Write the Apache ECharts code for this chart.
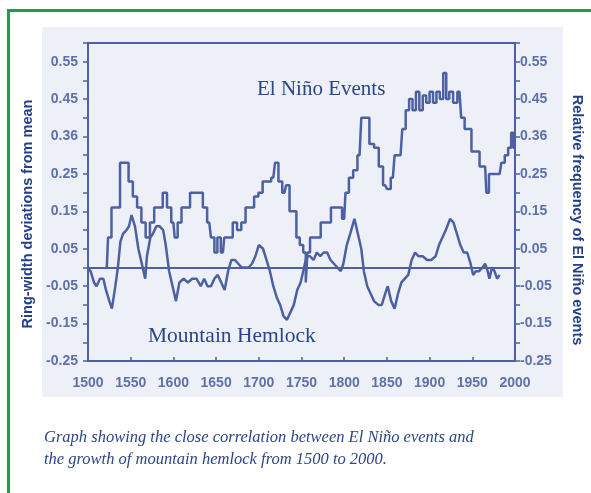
<!DOCTYPE html>
<html>
<head>
<meta charset="utf-8">
<script src="https://cdn.jsdelivr.net/npm/echarts@6/dist/echarts.min.js"></script>
<style>
html,body{margin:0;padding:0;background:#fff;}
#main{width:591px;height:493px;}
</style>
</head>
<body>
<div id="main"></div>
<script>
/******* data *******/
// El Niño events (relative frequency)
var ninoYears = [1522,1525,1530,1535,1540,1545,1550,1555,1560,1565,1570,1575,1580,1585,1590,1595,1600,1603,1607,1612,
	1617,1622,1627,1632,1637,1642,1646,1650,1653,1658,1661,1667,1672,1677,1682,1687,1692,1697,1702,1707,
	1712,1717,1721,1725,1730,1734,1738,1742,1746,1750,1754,1756,1758,1762,1770,1775,1782,1787,1795,1800,
	1803,1808,1813,1818,1822,1827,1832,1838,1843,1848,1852,1857,1861,1866,1870,1874,1878,1882,1886,1890,
	1894,1898,1902,1906,1910,1914,1918,1921,1925,1930,1935,1939,1943,1947,1951,1956,1961,1965,1968,1971,
	1976,1982,1986,1990,1994,1997,1999];
var ninoValues = [0.00,0.08,0.16,0.16,0.28,0.28,0.23,0.19,0.16,0.12,0.08,0.12,0.16,0.16,0.20,0.16,0.12,0.08,0.12,0.16,
	0.16,0.20,0.20,0.20,0.16,0.12,0.08,0.04,0.08,0.04,0.08,0.08,0.12,0.10,0.12,0.16,0.16,0.19,0.20,0.23,
	0.23,0.24,0.28,0.23,0.20,0.22,0.15,0.15,0.08,0.06,0.04,-0.04,0.04,0.08,0.08,0.12,0.12,0.16,0.16,0.13,
	0.20,0.24,0.26,0.30,0.40,0.40,0.33,0.32,0.27,0.22,0.21,0.24,0.30,0.30,0.37,0.42,0.45,0.42,0.47,0.42,
	0.46,0.44,0.47,0.44,0.47,0.45,0.52,0.45,0.47,0.44,0.47,0.40,0.37,0.37,0.31,0.31,0.27,0.27,0.20,0.25,
	0.25,0.25,0.28,0.30,0.32,0.36,0.32];

// Mountain hemlock ring-width deviations
var hemYears = [1500,1503,1507,1510,1514,1518,1521,1525,1528,1532,1535,1538,1541,1545,1548,1551,1555,1559,1563,1567,
	1569,1573,1576,1580,1584,1588,1591,1595,1599,1603,1607,1612,1617,1622,1627,1632,1636,1640,1644,1648,
	1652,1656,1660,1664,1668,1672,1676,1680,1684,1688,1692,1696,1700,1705,1709,1713,1717,1721,1725,1729,
	1733,1737,1741,1745,1749,1752,1756,1760,1764,1768,1772,1776,1780,1784,1788,1792,1796,1799,1803,1807,
	1812,1816,1820,1823,1827,1831,1835,1840,1844,1848,1851,1855,1859,1863,1867,1871,1875,1879,1883,1887,
	1892,1897,1902,1907,1911,1915,1919,1924,1928,1932,1936,1940,1944,1948,1951,1954,1958,1962,1965,1968,
	1970,1973,1976,1979,1982];
var hemValues = [0.00,-0.01,-0.04,-0.05,-0.03,-0.03,-0.06,-0.09,-0.11,-0.05,0.00,0.07,0.09,0.10,0.11,0.14,0.11,0.05,0.01,-0.03,
	0.03,0.08,0.09,0.11,0.11,0.10,0.06,-0.01,-0.05,-0.09,-0.04,-0.03,-0.04,-0.03,-0.03,-0.05,-0.03,-0.05,-0.05,-0.03,
	-0.02,-0.04,-0.06,-0.01,0.02,0.02,0.01,0.00,0.00,0.00,0.01,0.03,0.06,0.05,0.02,-0.01,-0.05,-0.08,-0.10,-0.13,
	-0.14,-0.12,-0.10,-0.06,-0.04,-0.01,0.03,0.03,0.02,0.04,0.03,0.04,0.04,0.02,0.01,0.00,-0.01,0.01,0.06,0.09,
	0.13,0.09,0.05,-0.01,-0.05,-0.07,-0.09,-0.10,-0.10,-0.07,-0.05,-0.09,-0.11,-0.07,-0.04,-0.03,-0.02,0.02,0.04,0.03,
	0.03,0.02,0.02,0.03,0.06,0.08,0.10,0.13,0.12,0.09,0.06,0.04,0.04,0.01,-0.02,-0.01,-0.01,0.00,0.01,-0.01,
	-0.03,0.00,-0.01,-0.03,-0.02];

// tick labels as printed (both sides share them)
var yTickValues = [-0.25,-0.15,-0.05,0.05,0.15,0.25,0.35,0.45,0.55];
var yTickLabels = ['-0.25','-0.15','-0.05','0.05','0.15','0.25','0.36','0.45','0.55'];

/******* helpers *******/
function pairs(xs, ys){
	var res = [];
	for(var i=0;i<xs.length;i++){ res.push([xs[i], ys[i]]); }
	return res;
}
function yLabel(v){
	for(var i=0;i<yTickValues.length;i++){
		if(Math.abs(v - yTickValues[i]) < 1e-6) return yTickLabels[i];
	}
	return '';
}

var ink = '#4d60a2';
var dark = '#23408a';

var labelStyle = {color:'#6070ab', fontSize:14, fontWeight:'bold', fontFamily:'Liberation Sans'};

function yAxisDef(pos){
	return {
		type:'value', position:pos, min:-0.25, max:0.6, interval:0.05,
		axisLine:{show:true, lineStyle:{color:ink, width:2}},
		axisTick:{show:true, length:5, inside:false, lineStyle:{color:ink, width:1.5}},
		axisLabel:Object.assign({margin:pos=='left'?10:5, formatter:yLabel}, labelStyle),
		splitLine:{show:false}
	};
}

var chart = echarts.init(document.getElementById('main'));
chart.setOption({
	backgroundColor:'#ffffff',
	animation:false,
	graphic:[
		// scanned panel backdrop
		{type:'rect', z:-10, shape:{x:42, y:27, width:521, height:370}, style:{fill:'#edf0f7'}},
		// green page border
		{type:'rect', z:10, shape:{x:7, y:9, width:584, height:3}, style:{fill:'#18a04f'}},
		{type:'rect', z:10, shape:{x:7, y:9, width:3, height:484}, style:{fill:'#18a04f'}},
		{type:'text', x:28, y:214, rotation:Math.PI/2,
			style:{text:'Ring-width deviations from mean', fill:dark, font:'bold 14.5px "Liberation Sans"', align:'center', verticalAlign:'middle'}},
		{type:'text', x:577, y:220, rotation:-Math.PI/2,
			style:{text:'Relative frequency of El Niño events', fill:dark, font:'bold 14.5px "Liberation Sans"', align:'center', verticalAlign:'middle'}},
		{type:'text', x:257, y:89,
			style:{text:'El Niño Events', fill:'#2c4588', font:'21px "Liberation Serif"', align:'left', verticalAlign:'middle'}},
		{type:'text', x:148, y:336,
			style:{text:'Mountain Hemlock', fill:'#2c4588', font:'21.5px "Liberation Serif"', align:'left', verticalAlign:'middle'}},
		{type:'text', x:44, y:438,
			style:{text:'Graph showing the close correlation between El Niño events and', fill:'#2c4588', font:'italic 16.5px "Liberation Serif"', align:'left', verticalAlign:'middle'}},
		{type:'text', x:44, y:460,
			style:{text:'the growth of mountain hemlock from 1500 to 2000.', fill:'#2c4588', font:'italic 16.5px "Liberation Serif"', align:'left', verticalAlign:'middle'}}
	],
	grid:{left:88, right:76, top:43, bottom:132, show:true, borderColor:ink, borderWidth:2, backgroundColor:'transparent'},
	xAxis:{
		type:'value', min:1500, max:2000, interval:50,
		axisLine:{show:true, onZero:false, lineStyle:{color:ink, width:2}},
		axisTick:{show:true, inside:true, length:4, lineStyle:{color:ink, width:1.5}},
		axisLabel:Object.assign({margin:15, formatter:function(v){ return String(v); }}, labelStyle),
		splitLine:{show:false}
	},
	yAxis:[yAxisDef('left'), yAxisDef('right')],
	series:[
		{
			name:'Mountain Hemlock', type:'line', yAxisIndex:0, data:pairs(hemYears, hemValues),
			showSymbol:false, lineStyle:{color:ink, width:2.5}, z:3,
			markLine:{silent:true, symbol:['none','none'], label:{show:false},
				lineStyle:{color:ink, width:2, type:'solid'}, data:[{yAxis:0}]}
		},
		{
			name:'El Niño Events', type:'line', yAxisIndex:1, data:pairs(ninoYears, ninoValues),
			step:'middle', showSymbol:false, lineStyle:{color:ink, width:2.5}, z:3
		}
	]
});
</script>
</body>
</html>
